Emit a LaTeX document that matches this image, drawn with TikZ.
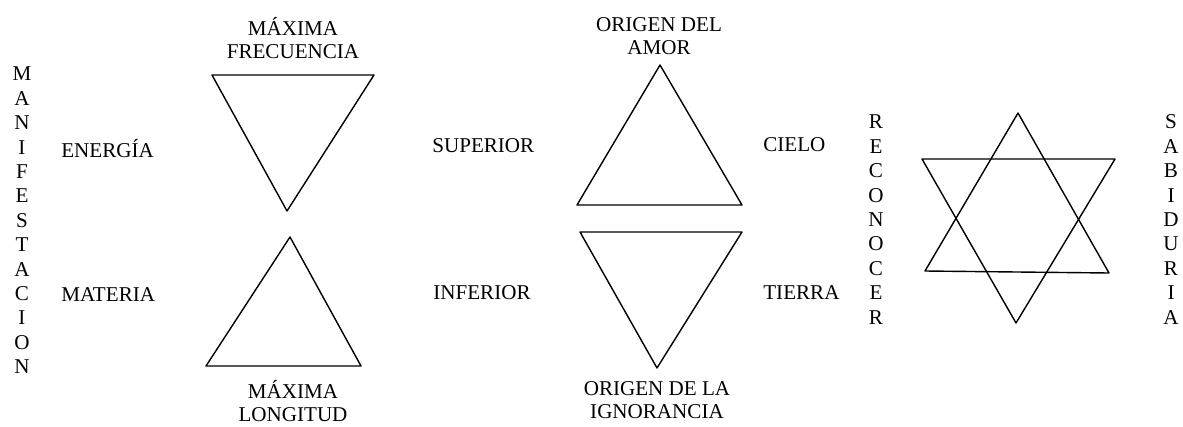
\documentclass[tikz,border=0pt]{standalone}
\usepackage{fontspec}
\setmainfont{Liberation Serif}
\tikzset{
  lbl/.style={inner sep=0pt, font=\fontsize{12}{14}\selectfont},
  tri/.style={line width=0.8pt, line join=round}
}
\begin{document}
\begin{tikzpicture}[x=0.02cm, y=-0.02cm]
\useasboundingbox (0,0) rectangle (1183,426);
% triangles, left pair
\draw [tri] (212,75) -- (374,75) -- (287,211) -- cycle;
\draw [tri] (290,237) -- (361,366) -- (206,366) -- cycle;
% triangles, middle pair
\draw [tri] (660,65) -- (742,205) -- (577,205) -- cycle;
\draw [tri] (580,232) -- (742,232) -- (657,368) -- cycle;
% star
\draw [tri] (1018,113) -- (1109,273) -- (925,271) -- cycle;
\draw [tri] (922,159) -- (1115,159) -- (1016,323) -- cycle;
% labels
\node [lbl, align=center] (maxfrec) at (293,38) {MÁXIMA\\[-1pt]FRECUENCIA};
\node [lbl, align=center] (maxlong) at (293,401) {MÁXIMA\\[-1pt]LONGITUD};
\node [lbl, align=center] (amor) at (659,36) {ORIGEN DEL\\[-1pt]AMOR};
\node [lbl, align=center] (ignor) at (657,400) {ORIGEN DE LA\\[-1pt]IGNORANCIA};
\node [lbl, anchor=west] (energia) at (61,149) {ENERGÍA};
\node [lbl, anchor=west] (materia) at (61,295) {MATERIA};
\node [lbl, anchor=west] (superior) at (432,146) {SUPERIOR};
\node [lbl, anchor=west] (inferior) at (433,293) {INFERIOR};
\node [lbl, anchor=west] (cielo) at (763,145) {CIELO};
\node [lbl, anchor=west] (tierra) at (763,293) {TIERRA};
% vertical words
\foreach \l [count=\i] in {M,A,N,I,F,E,S,T,A,C,I,O,N}
  \node [lbl] (manif\i) at (22,{74+24.4*(\i-1)}) {\l};
\foreach \l [count=\i] in {R,E,C,O,N,O,C,E,R}
  \node [lbl] (recon\i) at (876,{122+24.4*(\i-1)}) {\l};
\foreach \l [count=\i] in {S,A,B,I,D,U,R,I,A}
  \node [lbl] (sabid\i) at (1171,{122+24.4*(\i-1)}) {\l};
\end{tikzpicture}
\end{document}
